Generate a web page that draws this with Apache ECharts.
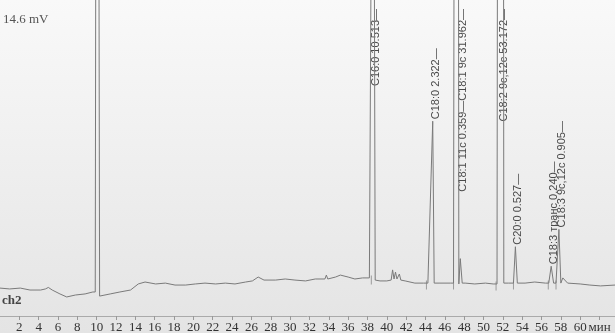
<!DOCTYPE html>
<html>
<head>
<meta charset="utf-8">
<script src="https://cdn.jsdelivr.net/npm/echarts@6/dist/echarts.min.js"></script>
<style>
  html, body { margin: 0; padding: 0; }
  #chart { width: 615px; height: 333px; }
</style>
</head>
<body>
<div id="chart"></div>
<script>
// Gas chromatogram, channel 2: detector signal (mV) against retention time (min)
const signalMax = 14.6;
const timeMax = 63.6;
const timeUnit = 'мин';
const signalUnit = 'mV';
const channelName = 'ch2';

// Baseline between the peaks: retention time (min) and signal (mV)
const baselineTime = [
  0.0, 1.0, 2.1, 3.1, 4.2, 4.7, 5.0, 5.4, 6.2, 6.9, 7.8, 8.8, 9.6,
  10.5, 11.4, 12.4, 13.5, 14.3, 15.0, 16.1, 17.1, 18.1, 19.2, 20.2, 21.2,
  22.3, 23.3, 24.3, 25.4, 26.1, 26.7, 27.3, 28.5, 29.5, 30.5, 31.6, 32.6,
  33.6, 33.75, 33.9, 34.7, 35.2, 36.0, 36.7, 37.5, 38.2,
  39.3, 40.0, 40.45, 40.6, 40.75, 40.9, 41.05, 41.3, 41.45, 41.9, 42.9, 43.8,
  45.5, 46.6, 48.1, 49.1, 50.2, 51.0, 52.6, 54.3, 55.3, 56.4,
  58.2, 58.7, 60.0, 61.0, 62.1, 63.6
];
const baselineSignal = [
  1.29, 1.25, 1.29, 1.20, 1.20, 1.25, 1.32, 1.20, 1.02, 0.88, 0.97, 1.02, 1.11,
  0.95, 1.02, 1.11, 1.20, 1.48, 1.57, 1.48, 1.52, 1.43, 1.43, 1.48, 1.52,
  1.48, 1.52, 1.48, 1.57, 1.62, 1.80, 1.66, 1.66, 1.71, 1.66, 1.62, 1.71,
  1.71, 1.89, 1.71, 1.80, 1.89, 1.80, 1.71, 1.76, 1.76,
  1.62, 1.62, 1.66, 2.13, 1.71, 2.03, 1.71, 1.94, 1.66, 1.62, 1.52, 1.52,
  1.52, 1.52, 1.52, 1.48, 1.52, 1.48, 1.52, 1.52, 1.57, 1.52,
  1.76, 1.52, 1.48, 1.43, 1.39, 1.43
];

// Peaks: component, area %, start / apex / end times (min) and signals (mV)
const peakName = ['', 'C16:0', 'C18:0', 'C18:1 9c', 'C18:1 11c', 'C18:2 9c,12c', 'C20:0', 'C18:3 транс', 'C18:3 9c,12c'];
const peakArea = [null, 10.513, 2.322, 31.962, 0.359, 53.172, 0.527, 0.240, 0.905];
const peakStartTime = [9.85, 38.4, 44.25, 46.9, 47.5, 51.4, 53.1, 56.75, 57.5];
const peakApexTime  = [10.05, 38.6, 44.75, 47.25, 47.6, 51.85, 53.3, 57.0, 57.8];
const peakEndTime   = [10.3, 38.8, 44.9, 47.45, 47.8, 52.1, 53.5, 57.25, 58.0];
const peakStartSignal = [1.11, 1.76, 1.52, 1.52, 1.48, 1.48, 1.52, 1.52, 1.52];
const peakApexSignal  = [60, 35, 9.0, 100, 2.65, 170, 3.2, 2.3, 4.0];
const peakEndSignal   = [0.92, 1.66, 1.52, 1.48, 1.52, 1.52, 1.52, 1.52, 1.52];

// Integration marks at the peak starts
const markTime   = [38.4, 44.1, 46.9, 51.3, 53.1, 56.7, 57.5];
const markSignal = [1.76, 1.52, 1.52, 1.48, 1.52, 1.52, 1.52];

// ---- assemble the trace ----
const trace = baselineTime.map((t, i) => [t, baselineSignal[i]]);
peakName.forEach((_, i) => {
  trace.push([peakStartTime[i], peakStartSignal[i]]);
  trace.push([peakApexTime[i], peakApexSignal[i]]);
  trace.push([peakEndTime[i], peakEndSignal[i]]);
});
trace.sort((a, b) => a[0] - b[0]);

// ---- peak labels: close peaks share one column ----
const labelGroups = [];
peakName.forEach((name, i) => {
  if (!name) return;
  const last = labelGroups[labelGroups.length - 1];
  if (last && peakApexTime[i] - last.time < 0.5) {
    last.members.push(i);
    last.time = peakApexTime[i];
  } else {
    labelGroups.push({ time: peakApexTime[i], members: [i] });
  }
});
labelGroups.forEach(g => {
  const ordered = g.members.slice().sort((a, b) => peakArea[a] - peakArea[b]);
  g.text = ordered.map(i => peakName[i] + ' ' + peakArea[i].toFixed(3) + '—').join('');
  g.top = Math.max.apply(null, g.members.map(i => peakApexSignal[i]));
});

const chart = echarts.init(document.getElementById('chart'));
chart.setOption({
  animation: false,
  backgroundColor: {
    type: 'linear', x: 0, y: 0, x2: 0, y2: 1,
    colorStops: [{ offset: 0, color: '#f9f9f9' }, { offset: 1, color: '#e4e4e4' }]
  },
  title: [
    { text: signalMax + ' ' + signalUnit, left: 3, top: 13, padding: 0,
      textStyle: { fontFamily: 'Liberation Serif', fontSize: 13, fontWeight: 'normal', color: '#555' } },
    { text: channelName, left: 2, top: 294, padding: 0,
      textStyle: { fontFamily: 'Liberation Serif', fontSize: 13, fontWeight: 'bold', color: '#444' } }
  ],
  grid: { left: 0, right: 0, top: 0, bottom: 17, containLabel: false, outerBoundsMode: 'none' },
  xAxis: {
    type: 'value', min: 0, max: timeMax, interval: 2,
    axisLine: { lineStyle: { color: '#aaa', width: 1 } },
    axisTick: { length: 4, lineStyle: { color: '#999' } },
    axisLabel: {
      margin: 5, fontFamily: 'Liberation Serif', fontSize: 13, color: '#333',
      showMinLabel: false, showMaxLabel: false,
      formatter: v => (v === 0 ? '' : v === 62 ? timeUnit : String(v))
    },
    splitLine: { show: false }
  },
  yAxis: { type: 'value', min: 0, max: signalMax, show: false, splitLine: { show: false } },
  series: [
    {
      type: 'line', data: trace, showSymbol: false, symbol: 'none', clip: true,
      lineStyle: { color: '#7a7a7a', width: 1 }
    },
    {
      type: 'scatter', data: markTime.map((t, i) => [t, markSignal[i]]),
      symbol: 'rect', symbolSize: [1, 9], symbolOffset: [0, 2],
      itemStyle: { color: '#888' }
    },
    {
      type: 'custom', coordinateSystem: 'cartesian2d', clip: false,
      data: labelGroups.map(g => [g.time, Math.min(g.top, signalMax)]),
      renderItem: (params, api) => {
        const g = labelGroups[params.dataIndex];
        const p = api.coord([g.time, Math.min(g.top, signalMax)]);
        const offScale = g.top > signalMax;
        return {
          type: 'text',
          x: p[0] + 3,
          y: offScale ? p[1] + 9 : p[1] - 2,
          rotation: Math.PI / 2,
          style: {
            text: g.text,
            font: '11px "Liberation Sans"',
            fill: '#4a4a4a',
            align: offScale ? 'right' : 'left',
            verticalAlign: 'middle'
          }
        };
      }
    }
  ]
});
</script>
</body>
</html>
